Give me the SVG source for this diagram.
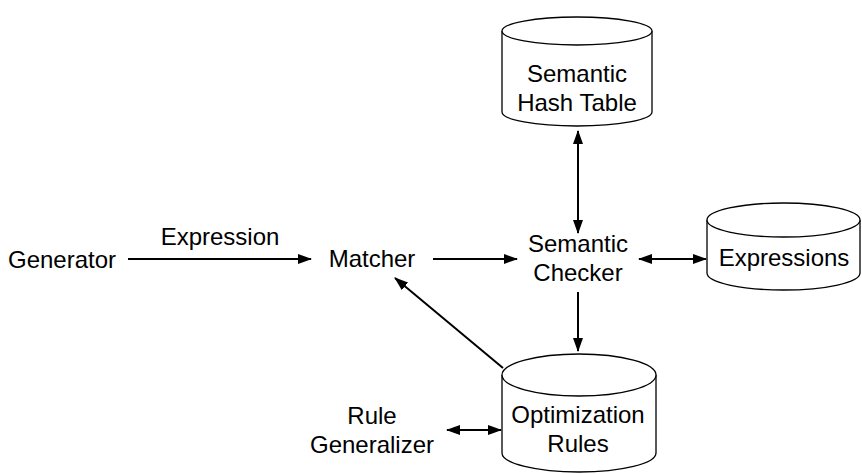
<svg xmlns="http://www.w3.org/2000/svg" width="862" height="474" viewBox="0 0 862 474">
<style>
.t{font-family:"Liberation Sans",Arial,sans-serif;font-size:24px;fill:#000;text-anchor:middle}
.cyl{fill:#fff;stroke:#000;stroke-width:1.3}
.ar{stroke:#000;stroke-width:2;fill:none}
</style>
<defs>
<marker id="ah" markerUnits="userSpaceOnUse" markerWidth="14" markerHeight="10" refX="13" refY="5" orient="auto-start-reverse">
<path d="M0,0 L14,5 L0,10 Z" fill="#000"/>
</marker>
</defs>
<rect width="862" height="474" fill="#fff"/>
<g id="generator"><text class="t" x="62" y="268">Generator</text></g>
<g id="matcher"><text class="t" x="372" y="267">Matcher</text></g>
<g id="checker"><text class="t" x="578" y="252">Semantic</text><text class="t" x="578" y="281">Checker</text></g>
<g id="hashtable">
<path class="cyl" d="M502,31 L502,112 A75,14 0 0 0 652,112 L652,31"/>
<ellipse class="cyl" cx="577" cy="31" rx="75" ry="14"/>
<text class="t" x="577" y="82">Semantic</text><text class="t" x="577" y="111">Hash Table</text>
</g>
<g id="expressions">
<path class="cyl" d="M707,220 L707,273 A76.5,17 0 0 0 860,273 L860,220"/>
<ellipse class="cyl" cx="783.5" cy="220" rx="76.5" ry="17"/>
<text class="t" x="784" y="266">Expressions</text>
</g>
<g id="rules">
<path class="cyl" d="M502,375 L502,453 A77,19 0 0 0 656,453 L656,375"/>
<ellipse class="cyl" cx="579" cy="375" rx="77" ry="21"/>
<text class="t" x="578" y="423">Optimization</text><text class="t" x="578" y="452">Rules</text>
</g>
<g id="generalizer"><text class="t" x="372" y="424">Rule</text><text class="t" x="372" y="453">Generalizer</text></g>
<g id="connectors">
<line class="ar" x1="128" y1="259" x2="311" y2="259" marker-end="url(#ah)"/>
<text class="t" x="220" y="245">Expression</text>
<line class="ar" x1="433" y1="259" x2="517" y2="259" marker-end="url(#ah)"/>
<line class="ar" x1="639" y1="259" x2="706" y2="259" marker-start="url(#ah)" marker-end="url(#ah)"/>
<line class="ar" x1="578" y1="131" x2="578" y2="233" marker-start="url(#ah)" marker-end="url(#ah)"/>
<line class="ar" x1="578" y1="292" x2="578" y2="351" marker-end="url(#ah)"/>
<line class="ar" x1="503" y1="368" x2="395" y2="278" marker-end="url(#ah)"/>
<line class="ar" x1="447" y1="430" x2="501" y2="430" marker-start="url(#ah)" marker-end="url(#ah)"/>
</g>
</svg>
